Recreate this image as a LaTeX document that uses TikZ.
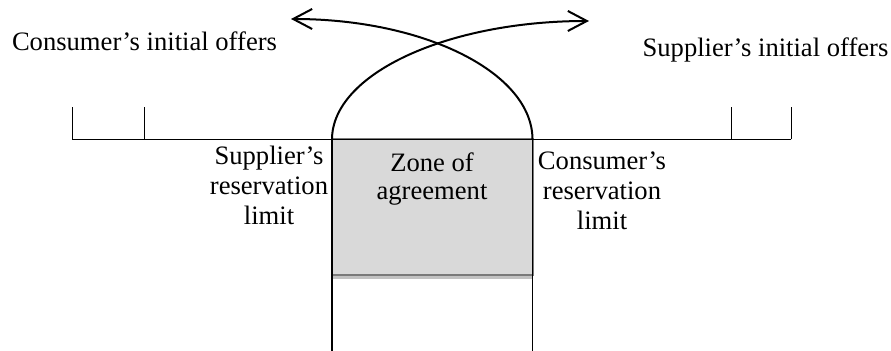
\documentclass[tikz,border=0pt]{standalone}
\usepackage{fontspec}
\setmainfont{Liberation Serif}
\usetikzlibrary{arrows.meta}
\begin{document}
\begin{tikzpicture}[x=0.5pt,y=-0.5pt,
  txt/.style={inner sep=0pt, font=\fontsize{13.3}{15.2}\selectfont, align=center},
  ztxt/.style={inner sep=0pt, font=\fontsize{13.3}{14}\selectfont, align=center},
  offer/.style={line width=1pt, -{Straight Barb[length=9.5pt,width=10pt,line width=1pt]}},
  axis/.style={line width=0.65pt},
  tick/.style={line width=0.5pt},
  limitline/.style={line width=0.85pt},
  zonebox/.style={fill=zonefill, draw=zoneedge, line width=1pt, inner sep=0pt}]
\definecolor{zonefill}{HTML}{D9D9D9}
\definecolor{zoneedge}{HTML}{7A7A7A}
\definecolor{zoneshade}{HTML}{C2C2C2}
\useasboundingbox (0,0) rectangle (891,351);

% scale ends and ticks
\coordinate (a1) at (72,139.5);
\coordinate (a2) at (144,139.5);
\coordinate (a3) at (731,139.5);
\coordinate (a4) at (791,139.5);
\coordinate (t1) at (72,107);
\coordinate (t2) at (144,107);
\coordinate (t3) at (731,107);
\coordinate (t4) at (791,107);

% reservation limits and arrow tips
\coordinate (sl) at (332,139.5);
\coordinate (cl) at (532.5,139.5);
\coordinate (slb) at (332,351);
\coordinate (clb) at (532.5,351);
\coordinate (tipR) at (589,21);
\coordinate (tipL) at (291,19);

% zone of agreement
\fill[zoneshade] (332,275) rectangle (532.5,279.5);
\node[zonebox, minimum width=100.25pt, minimum height=67.75pt] (zone) at (432.25,207.25) {};
\node[ztxt, anchor=base] (zonelbl) at (432,200) {Zone of\\agreement};

% horizontal scale
\draw[axis] (a1) -- (a4);
\draw[tick] (a1) -- (t1);
\draw[tick] (a2) -- (t2);
\draw[tick] (a3) -- (t3);
\draw[tick] (a4) -- (t4);

% vertical limit lines
\draw[limitline] (sl) -- (slb);
\draw[limitline] (cl) -- (clb);

% offer curves
\draw[offer] (sl) .. controls (332,74) and (447,21) .. (tipR);
\draw[offer] (cl) .. controls (532.5,73) and (425,19) .. (tipL);

% labels (multi-line nodes sit on the baseline of their last line)
\node[txt, anchor=base] (cio) at (144.5,50.5) {Consumer’s initial offers};
\node[txt, anchor=base] (sio) at (765.5,57) {Supplier’s initial offers};
\node[txt, anchor=base] (srl) at (269,225) {Supplier’s\\reservation\\limit};
\node[txt, anchor=base] (crl) at (602,230) {Consumer’s\\reservation\\limit};
\end{tikzpicture}
\end{document}
